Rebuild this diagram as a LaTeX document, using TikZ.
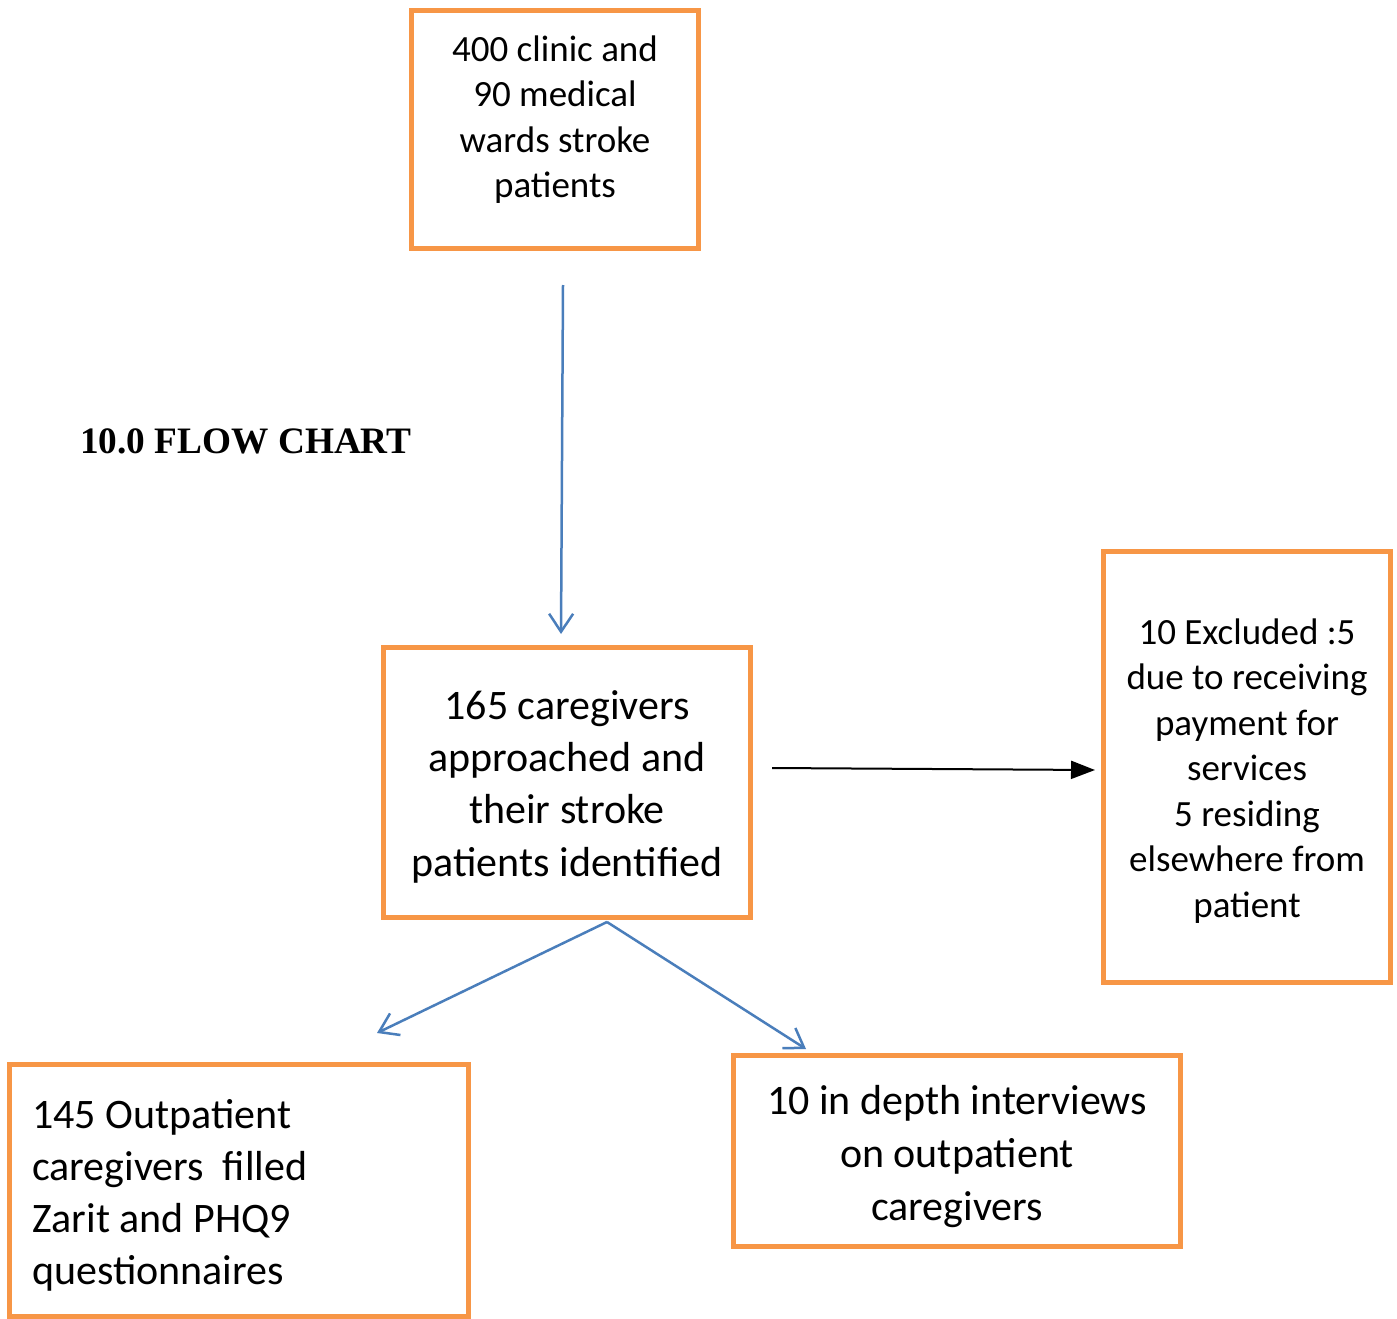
\documentclass[tikz,border=0pt]{standalone}
\usepackage{fontspec}
\setmainfont{Carlito}
\newfontfamily\titlefont{Liberation Serif}
\usetikzlibrary{arrows.meta}
\definecolor{boxorange}{HTML}{F79646}
\definecolor{arrowblue}{HTML}{4A7EBB}
\tikzset{
  box/.style={draw=boxorange, line width=5pt, inner sep=0pt, fill=white},
  boxtext/.style={align=center, inner sep=0pt, anchor=base},
  bigfont/.style={font=\fontsize{42}{52.3}\selectfont},
  smallfont/.style={font=\fontsize{37}{45.5}\selectfont},
  bluearrow/.style={draw=arrowblue, line width=2.5pt, -{Straight Barb[length=18pt,width=24pt,line width=2.5pt]}},
  blackarrow/.style={draw=black, line width=2pt, -{Triangle[length=24pt,width=18pt]}}
}
\begin{document}
\begin{tikzpicture}[x=1pt,y=-1pt]
\useasboundingbox (0,0) rectangle (1397,1319);
\fill[white] (0,0) rectangle (1397,1319);

% boxes
\node[box, minimum width=287pt, minimum height=238pt] (top) at (555,129.5) {};
\node[box, minimum width=367pt, minimum height=270pt] (mid) at (567,782.5) {};
\node[box, minimum width=287pt, minimum height=431pt] (excl) at (1247,767) {};
\node[box, minimum width=459pt, minimum height=252pt] (outp) at (239,1190.5) {};
\node[box, minimum width=447pt, minimum height=191pt] (intv) at (957,1151) {};

% texts (base anchor = baseline of last line)
\node[boxtext, smallfont] (toptext) at (555,197.5) {400 clinic and\\90 medical\\wards stroke\\patients};
\node[boxtext, bigfont] (midtext) at (567,876) {165 caregivers\\approached and\\their stroke\\patients identified};
\node[boxtext, smallfont] (excltext) at (1247,917) {10 Excluded :5\\due to receiving\\payment for\\services\\5 residing\\elsewhere from\\patient};
\node[align=left, inner sep=0pt, anchor=base west, font=\fontsize{42}{52}\selectfont] (outptext) at (32,1284) {145 Outpatient\\caregivers~ filled\\Zarit and PHQ9\\questionnaires};
\node[boxtext, font=\fontsize{42}{53}\selectfont] (intvtext) at (957,1220) {10 in depth interviews\\on outpatient\\caregivers};

\node[inner sep=0pt, anchor=base west, font=\titlefont\bfseries\fontsize{37.3}{44}\selectfont] (title) at (80,453) {10.0 FLOW CHART};

% connector end points
\coordinate (a1s) at (563,285);
\coordinate (a1e) at (561,634);
\coordinate (a2s) at (772,768);
\coordinate (a2e) at (1095,770);
\coordinate (a3s) at (607,922);
\coordinate (a3e) at (377,1033);
\coordinate (a4e) at (806,1049);

\draw[bluearrow] (a1s) -- (a1e);
\draw[blackarrow] (a2s) -- (a2e);
\draw[bluearrow] (a3s) -- (a3e);
\draw[bluearrow] (a3s) -- (a4e);
\end{tikzpicture}
\end{document}
